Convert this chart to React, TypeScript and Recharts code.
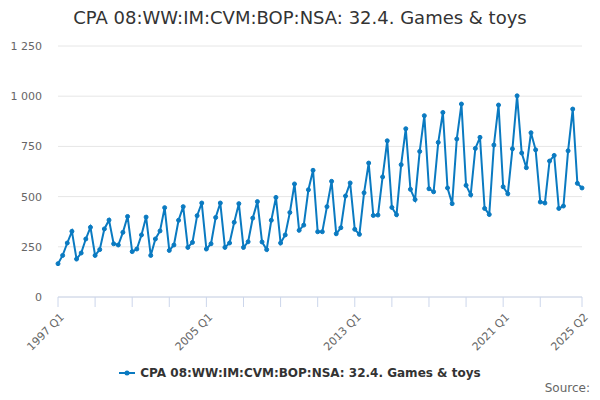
import React from "react";
import { LineChart, Line, XAxis, YAxis, CartesianGrid } from "recharts";

const SERIES_NAME = "CPA 08:WW:IM:CVM:BOP:NSA: 32.4. Games & toys";
const LINE_COLOR = "#0a7ac1";

// quarterly values, 1997 Q1 .. 2025 Q2
const values = [
  166, 207, 269, 327, 189, 219, 289, 347,
  207, 236, 339, 383, 265, 259, 322, 401,
  226, 239, 309, 398, 207, 289, 329, 445,
  232, 259, 382, 450, 247, 272, 405, 468,
  239, 265, 396, 468, 247, 269, 372, 465,
  247, 275, 393, 475, 274, 236, 382, 496,
  269, 309, 421, 563, 332, 358, 534, 631,
  325, 325, 450, 576, 315, 345, 503, 568,
  337, 312, 519, 667, 406, 408, 598, 778,
  446, 410, 659, 838, 536, 485, 725, 903,
  539, 524, 770, 919, 543, 465, 787, 961,
  556, 509, 740, 795, 441, 411, 757, 956,
  549, 514, 738, 1002, 717, 644, 818, 733,
  473, 468, 677, 705, 441, 453, 728, 936,
  566, 543,
];

const firstYear = 1997;
const quarters = values.map(
  (_, i) => `${firstYear + Math.floor(i / 4)} Q${(i % 4) + 1}`
);

const tickIndexes = [0, 8, 16, 24, 32, 40, 48, 56, 64, 72, 80, 88, 96, 104, 113];
const labelledTicks = ["1997 Q1", "2005 Q1", "2013 Q1", "2021 Q1", "2025 Q2"];
const yTicks = [0, 250, 500, 750, 1000, 1250];

const data = values.map((value, i) => ({ idx: i, quarter: quarters[i], value }));

const FONT = "'DejaVu Sans', sans-serif";

function formatThousands(v: number) {
  return String(v).replace(/\B(?=(\d{3})+(?!\d))/g, " ");
}

function QuarterTick(props: any) {
  const { x, y, payload } = props;
  const label = quarters[payload.value];
  if (!labelledTicks.includes(label)) return null;
  return (
    <g transform={`translate(${x + 4},${y + 6})`}>
      <text
        x={0}
        y={0}
        dy={4}
        transform="rotate(-45)"
        textAnchor="end"
        fill="#666"
        fontSize={11}
        fontFamily={FONT}
      >
        {label}
      </text>
    </g>
  );
}

export default function App() {
  return (
    <div
      style={{
        position: "absolute",
        left: 0,
        top: 0,
        width: 600,
        height: 400,
        background: "#fff",
        fontFamily: FONT,
      }}
    >
      <div
        style={{
          position: "absolute",
          top: 7,
          left: 0,
          width: 600,
          textAlign: "center",
          fontSize: 18,
          color: "#333",
        }}
      >
        {SERIES_NAME}
      </div>

      <LineChart
        width={600}
        height={400}
        data={data}
        margin={{ top: 46, right: 18, left: 0, bottom: 43 }}
      >
        <CartesianGrid vertical={false} stroke="#e6e6e6" />
        <XAxis
          dataKey="idx"
          type="number"
          domain={[0, 113]}
          ticks={tickIndexes}
          interval={0}
          height={60}
          stroke="#ccd6eb"
          tickSize={10}
          tick={<QuarterTick />}
        />
        <YAxis
          domain={[0, 1250]}
          ticks={yTicks}
          width={58}
          axisLine={false}
          tickLine={false}
          tickMargin={10}
          tickFormatter={formatThousands}
          tick={{ fill: "#666", fontSize: 11, fontFamily: FONT }}
        />
        <Line
          type="linear"
          dataKey="value"
          stroke={LINE_COLOR}
          strokeWidth={2}
          dot={{ r: 2, fill: LINE_COLOR, stroke: LINE_COLOR, strokeWidth: 1 }}
          isAnimationActive={false}
        />
      </LineChart>

      <div
        style={{
          position: "absolute",
          top: 366,
          left: 0,
          width: 600,
          display: "flex",
          justifyContent: "center",
          alignItems: "center",
          fontSize: 12,
          fontWeight: "bold",
          color: "#333",
        }}
      >
        <svg width={16} height={10} style={{ marginRight: 5 }}>
          <line x1={0} y1={5} x2={16} y2={5} stroke={LINE_COLOR} strokeWidth={2} />
          <circle cx={8} cy={5} r={2.5} fill={LINE_COLOR} />
        </svg>
        <span>{SERIES_NAME}</span>
      </div>

      <div
        style={{
          position: "absolute",
          top: 381,
          right: 10,
          fontSize: 12,
          color: "#666",
        }}
      >
        Source:
      </div>
    </div>
  );
}
